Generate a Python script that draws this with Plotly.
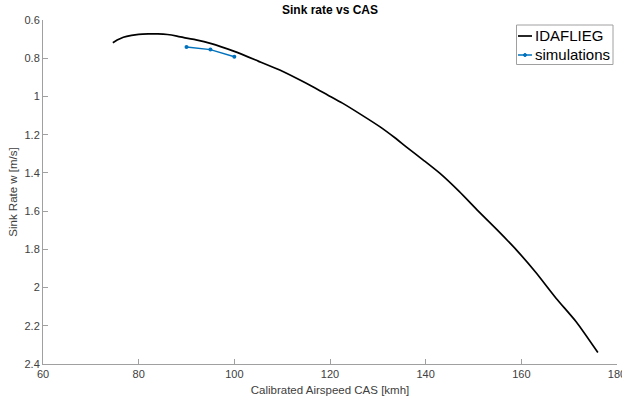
import plotly.graph_objects as go

# IDAFLIEG measured polar: calibrated airspeed [km/h] vs sink rate [m/s]
idaflieg_cas = [74.6, 75.5, 76.8, 78.5, 80, 82, 84, 86, 88, 90, 92, 95, 100,
                105, 109.5, 113, 116.4, 119.5, 122.6, 126.5, 130.4, 133.5, 136,
                139.5, 143, 147, 151, 155, 159, 163, 167.3, 171.5, 176]
idaflieg_w = [0.719, 0.705, 0.690, 0.680, 0.675, 0.673, 0.673, 0.676, 0.684,
              0.695, 0.704, 0.722, 0.764, 0.815, 0.862, 0.905, 0.949, 0.992,
              1.035, 1.095, 1.158, 1.215, 1.265, 1.333, 1.403, 1.497, 1.600,
              1.700, 1.804, 1.920, 2.057, 2.180, 2.340]

# Simulation results
sim_cas = [90, 95, 100]
sim_w = [0.741, 0.755, 0.792]

x_ticks = [60, 80, 100, 120, 140, 160, 180]
y_ticks = [0.6, 0.8, 1.0, 1.2, 1.4, 1.6, 1.8, 2.0, 2.2, 2.4]
y_ticklabels = ["0.6", "0.8", "1", "1.2", "1.4", "1.6", "1.8", "2", "2.2", "2.4"]

series_names = ["IDAFLIEG", "simulations"]
black = "black"
blue = "#0072BD"
font_family = "Liberation Sans, Arial"

fig = go.Figure()
fig.add_trace(go.Scatter(
    x=idaflieg_cas, y=idaflieg_w, mode="lines", name=series_names[0],
    line=dict(color=black, width=1.7, shape="spline", smoothing=0.6),
))
fig.add_trace(go.Scatter(
    x=sim_cas, y=sim_w, mode="lines+markers", name=series_names[1],
    line=dict(color=blue, width=1.5),
    marker=dict(color=blue, size=4),
))

axis_common = dict(
    showline=True, linecolor="#a0a0a0", linewidth=1,
    ticks="inside", ticklen=5, tickcolor="#a0a0a0",
    showgrid=False, zeroline=False,
    tickfont=dict(family=font_family, size=11, color="#404040"),
    ticklabeloverflow="allow",
    automargin=False,
    mirror=False,
)

# Compact boxed legend in the upper-right corner (pixel-based paper coords)
W, H = 622, 401
ml, mr, mt, mb = 43, 5, 20, 37
pw, ph = W - ml - mr, H - mt - mb


def px(x):
    return (x - ml) / pw


def py(y):
    return 1 - (y - mt) / ph


shapes = [
    dict(type="rect", xref="paper", yref="paper",
         x0=px(516.5), x1=px(613), y0=py(64.5), y1=py(25),
         line=dict(color="#a0a0a0", width=1), fillcolor="white", layer="above"),
    dict(type="line", xref="paper", yref="paper",
         x0=px(518), x1=px(532), y0=py(36), y1=py(36),
         line=dict(color=black, width=1.7), layer="above"),
    dict(type="line", xref="paper", yref="paper",
         x0=px(518), x1=px(532), y0=py(55), y1=py(55),
         line=dict(color=blue, width=1.5), layer="above"),
    dict(type="circle", xref="paper", yref="paper",
         x0=px(523.5), x1=px(526.5), y0=py(56.5), y1=py(53.5),
         line=dict(color=blue, width=1), fillcolor=blue, layer="above"),
]
annotations = [
    dict(text=series_names[0], xref="paper", yref="paper", x=px(532.5), y=py(36),
         xanchor="left", yanchor="middle", showarrow=False,
         font=dict(family=font_family, size=15, color="black")),
    dict(text=series_names[1], xref="paper", yref="paper", x=px(532.5), y=py(55),
         xanchor="left", yanchor="middle", showarrow=False,
         font=dict(family=font_family, size=15, color="black")),
]

fig.update_layout(
    width=W, height=H,
    margin=dict(l=ml, r=mr, t=mt, b=mb),
    paper_bgcolor="white", plot_bgcolor="white",
    title=dict(text="<b>Sink rate vs CAS</b>", x=0.5306, xanchor="center",
               y=0.975, yanchor="middle",
               font=dict(family=font_family, size=12, color="black")),
    xaxis=dict(range=[60, 180], tickvals=x_ticks,
               title=dict(text="Calibrated Airspeed CAS [kmh]", standoff=6,
                          font=dict(family=font_family, size=11.5, color="#404040")),
               **axis_common),
    yaxis=dict(range=[2.4, 0.6], tickvals=y_ticks, ticktext=y_ticklabels,
               title=dict(text="Sink Rate w [m/s]", standoff=4,
                          font=dict(family=font_family, size=11.5, color="#404040")),
               **axis_common),
    shapes=shapes,
    annotations=annotations,
    showlegend=False,
)

fig.write_html("out.html")
